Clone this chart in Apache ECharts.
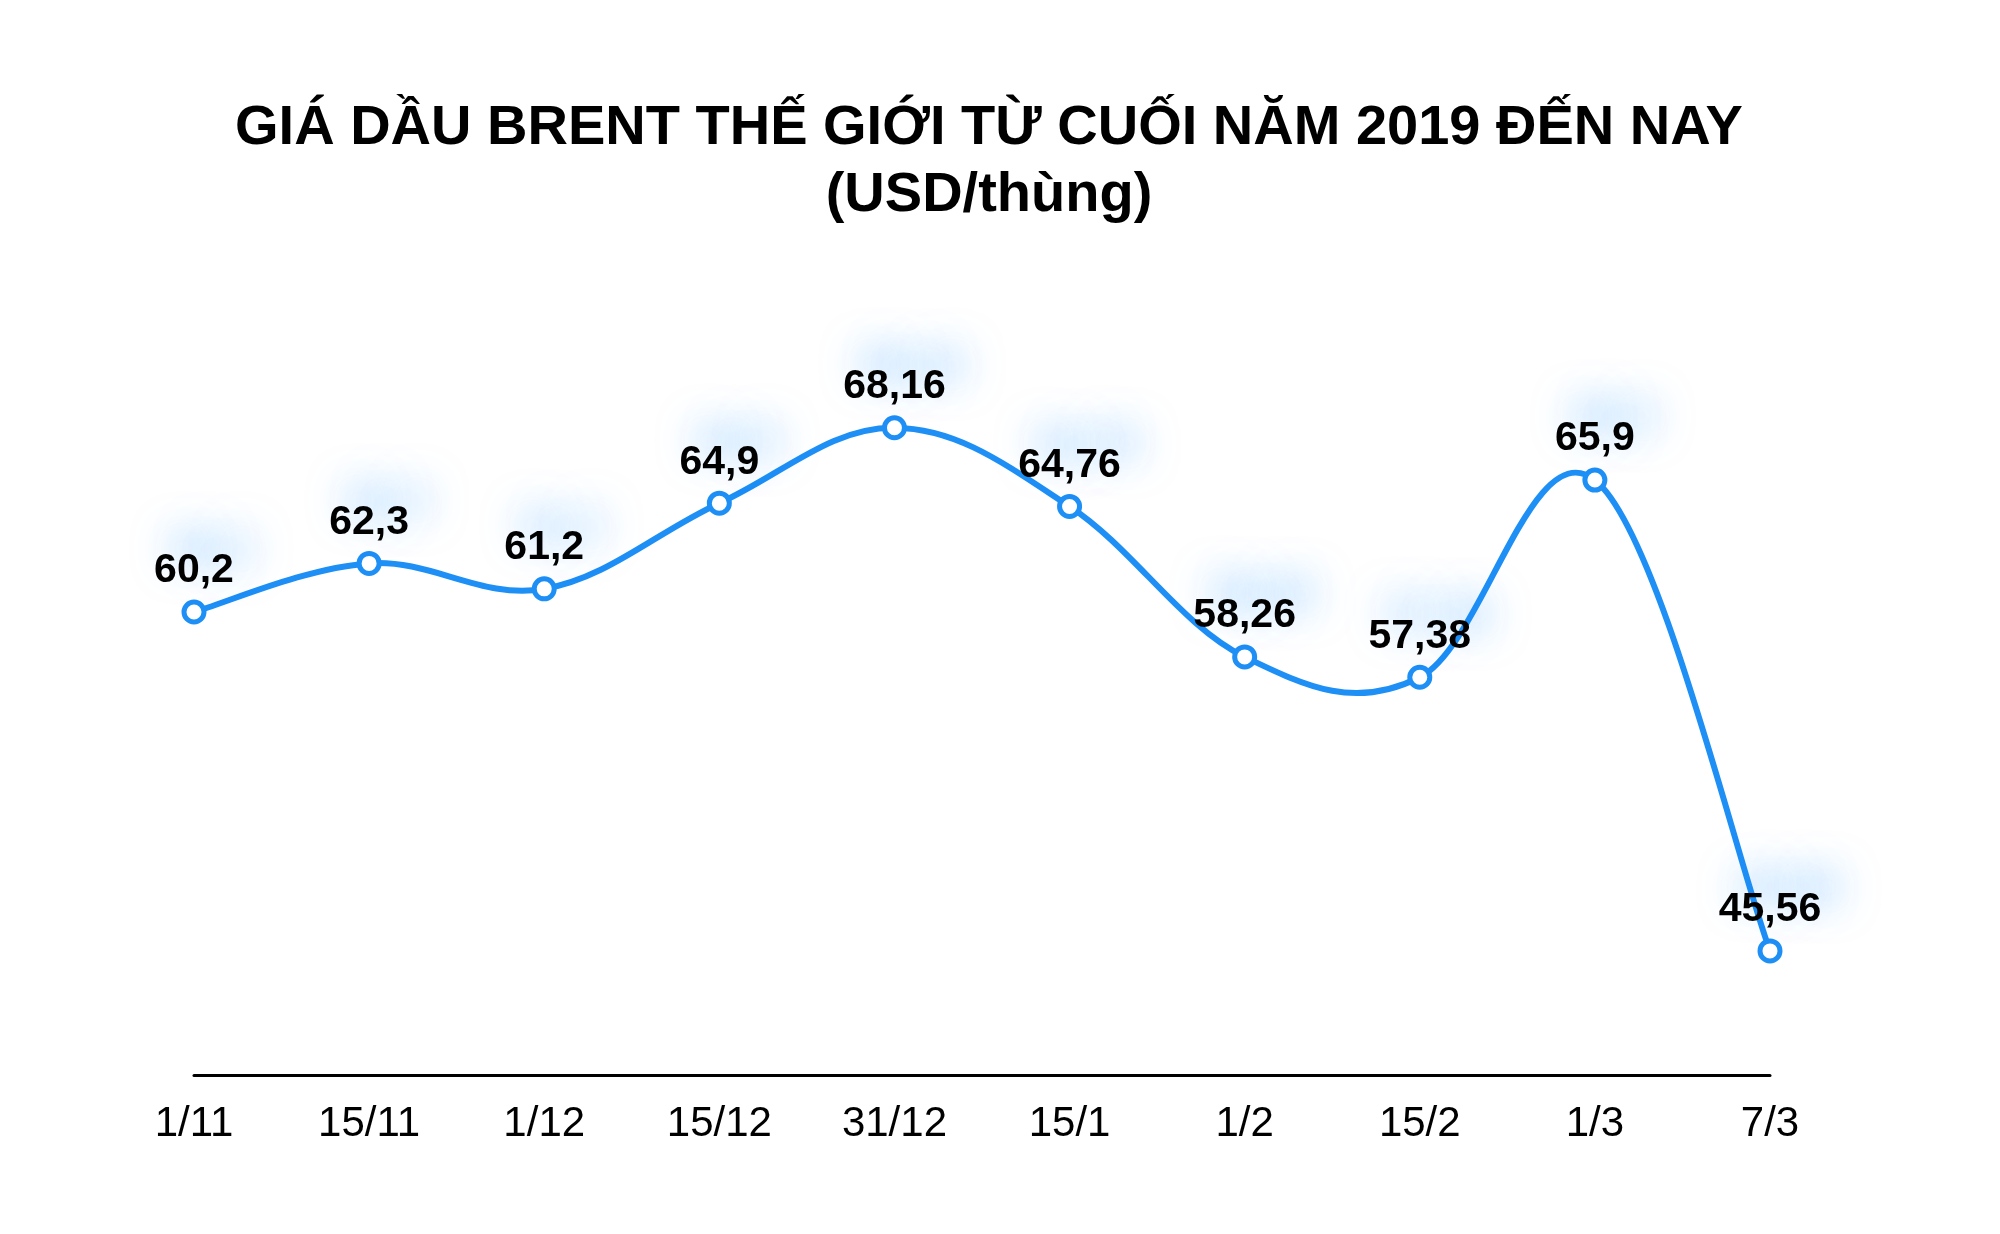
<!DOCTYPE html>
<html lang="vi">
<head>
    <meta charset="UTF-8">
    <title>Giá dầu Brent</title>
    <script src="https://cdn.jsdelivr.net/npm/echarts@6/dist/echarts.min.js"></script>
    <style>
        html, body { margin: 0; padding: 0; background: #fff; }
        #chart { width: 2000px; height: 1234px; }
    </style>
</head>
<body>
    <div id="chart"></div>
    <script>
        // dữ liệu
        var dates = ['1/11', '15/11', '1/12', '15/12', '31/12', '15/1', '1/2', '15/2', '1/3', '7/3'];
        var prices = [60.2, 62.3, 61.2, 64.9, 68.16, 64.76, 58.26, 57.38, 65.9, 45.56];

        var myChart = echarts.init(document.getElementById('chart'));
        var font = '"Liberation Sans", Arial, Helvetica, sans-serif';
        var blue = '#1E8FF5';

        // đường cong kiểu Catmull-Rom, nối từng đoạn i -> i+1
        function renderSegment(params, api) {
            var i = params.dataIndex;
            if (i >= prices.length - 1) return null;
            var p = function (k) {
                k = Math.max(0, Math.min(prices.length - 1, k));
                return api.coord([k, prices[k]]);
            };
            var p0 = p(i - 1), p1 = p(i), p2 = p(i + 1), p3 = p(i + 2);
            var t = 5.5;
            return {
                type: 'bezierCurve',
                shape: {
                    x1: p1[0], y1: p1[1],
                    x2: p2[0], y2: p2[1],
                    cpx1: p1[0] + (p2[0] - p0[0]) / t,
                    cpy1: p1[1] + (p2[1] - p0[1]) / t,
                    cpx2: p2[0] - (p3[0] - p1[0]) / t,
                    cpy2: p2[1] - (p3[1] - p1[1]) / t
                },
                style: { stroke: blue, lineWidth: 6, fill: null, lineCap: 'round' }
            };
        }

        var option = {
            backgroundColor: '#fff',
            animation: false,
            title: {
                text: 'GIÁ DẦU BRENT THẾ GIỚI TỪ CUỐI NĂM 2019 ĐẾN NAY\n(USD/thùng)',
                left: 984,
                textAlign: 'center',
                top: 90,
                textStyle: {
                    fontFamily: font,
                    fontWeight: 'bold',
                    fontSize: 56,
                    lineHeight: 67,
                    color: '#000'
                }
            },
            grid: {
                left: 194,
                right: 230,
                top: 149,
                bottom: 159
            },
            xAxis: {
                type: 'category',
                data: dates,
                boundaryGap: false,
                axisLine: { lineStyle: { color: '#000', width: 3 } },
                axisTick: { show: false },
                axisLabel: {
                    fontFamily: font,
                    fontSize: 42,
                    color: '#000',
                    margin: 28
                }
            },
            yAxis: {
                type: 'value',
                min: 40.2,
                max: 80.2,
                show: false,
                splitLine: { show: false }
            },
            series: [{
                type: 'custom',
                data: prices.map(function (v, i) { return [i, v]; }),
                renderItem: renderSegment,
                z: 2
            }, {
                type: 'line',
                data: prices,
                z: 3,
                symbol: 'circle',
                symbolSize: 20,
                lineStyle: { width: 0 },
                itemStyle: { color: '#fff', borderWidth: 5, borderColor: blue },
                label: {
                    show: true,
                    position: 'top',
                    distance: 8,
                    fontFamily: font,
                    fontWeight: 'bold',
                    fontSize: 41,
                    color: '#000',
                    textShadowColor: 'rgba(30,144,255,0.6)',
                    textShadowBlur: 40,
                    textShadowOffsetX: 18,
                    textShadowOffsetY: -20,
                    formatter: function (p) {
                        return String(p.value).replace('.', ',');
                    }
                }
            }]
        };
        myChart.setOption(option);
    </script>
</body>
</html>
